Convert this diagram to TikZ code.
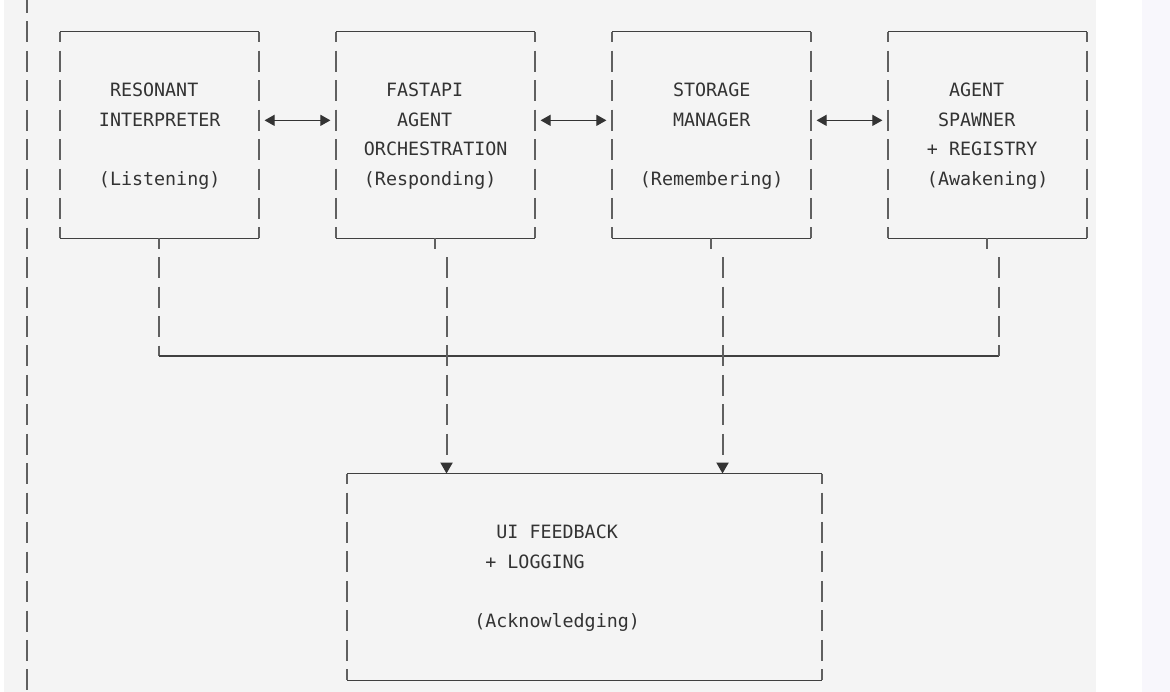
\documentclass[tikz,border=0pt]{standalone}
\usepackage{fontspec}
\newfontfamily\boxfont{DejaVu Sans Mono}
\usetikzlibrary{arrows.meta}
\definecolor{panel}{HTML}{F4F4F4}
\definecolor{sidebar}{HTML}{F8F7FC}
\definecolor{ink}{HTML}{333333}
\definecolor{rule}{HTML}{404040}
\definecolor{bar}{HTML}{606060}
\tikzset{
  hline/.style={draw=rule, line width=1.15pt},
  vline/.style={draw=bar, line width=2pt, dash pattern=on 21pt off 8.45pt, dash phase=10.5pt},
  link/.style={draw=ink, line width=1.1pt, {Triangle[length=10pt,width=11pt]}-{Triangle[length=10pt,width=11pt]},
    shorten <=5.52pt, shorten >=5.52pt},
  feed/.style={vline, dash phase=0pt, -{Triangle[length=11pt,width=12pt,color=ink]}},
  boxnode/.style={minimum width=198.72pt, minimum height=206.15pt, inner sep=0pt},
  txt/.style={font=\boxfont\fontsize{18.34pt}{22pt}\selectfont, text=ink, anchor=base west, inner sep=0pt, yshift=-6pt}
}
\begin{document}
\begin{tikzpicture}[x=1pt, y=-1pt]
  \useasboundingbox (0,0) rectangle (1170,692);
  \fill[white] (0,0) rectangle (1170,692);
  \fill[panel] (4,0) rectangle (1096,692);
  \fill[sidebar] (1142,0) rectangle (1170,692);
  \begin{scope}[shift={(27pt,-2.55pt)}, x=11.04pt, y=-29.45pt]
    \node[boxnode] (resonant) at (12,4.5) {};
    \node[boxnode] (fastapi) at (37,4.5) {};
    \node[boxnode] (storage) at (62,4.5) {};
    \node[boxnode] (spawner) at (87,4.5) {};
    \node[boxnode, minimum width=474.72pt] (ui) at (50.5,19.5) {};
    \foreach \b in {resonant,fastapi,storage,spawner,ui} {
      \draw[hline] (\b.north west) -- (\b.north east);
      \draw[hline] (\b.south west) -- (\b.south east);
      \draw[vline] (\b.north west) -- (\b.south west);
      \draw[vline] (\b.north east) -- (\b.south east);
    }
    \draw[vline, dash phase=0pt] (0,-0.3566) -- (0,23.3566);

    \draw[link] ([yshift=14.725pt]resonant.east) -- ([yshift=14.725pt]fastapi.west);
    \draw[link] ([yshift=14.725pt]fastapi.east) -- ([yshift=14.725pt]storage.west);
    \draw[link] ([yshift=14.725pt]storage.east) -- ([yshift=14.725pt]spawner.west);

    \coordinate (busL) at (12,12);
    \coordinate (busR) at (88,12);
    \coordinate (tapR) at (88,8.643);
    \coordinate (tapA) at (38,8.643);
    \coordinate (tapB) at (63,8.643);
    \draw[vline] (resonant.south) -- (busL);
    \draw[hline] (busL) -- (busR);
    \draw[vline, dash phase=0pt] (tapR) -- (busR);
    \foreach \b in {fastapi,storage,spawner}
      \draw[vline] (\b.south) -- ++(0,0.3566);
    \draw[feed] (tapA) -- (tapA |- ui.north);
    \draw[feed] (tapB) -- (tapB |- ui.north);

    \node[txt] (res1) at (7.5,3) {RESONANT};
    \node[txt] (res2) at (6.5,4) {INTERPRETER};
    \node[txt] (res3) at (6.5,6) {(Listening)};
    \node[txt] (api1) at (32.5,3) {FASTAPI};
    \node[txt] (api2) at (33.5,4) {AGENT};
    \node[txt] (api3) at (30.5,5) {ORCHESTRATION};
    \node[txt] (api4) at (30.5,6) {(Responding)};
    \node[txt] (sto1) at (58.5,3) {STORAGE};
    \node[txt] (sto2) at (58.5,4) {MANAGER};
    \node[txt] (sto3) at (55.5,6) {(Remembering)};
    \node[txt] (spw1) at (83.5,3) {AGENT};
    \node[txt] (spw2) at (82.5,4) {SPAWNER};
    \node[txt] (spw3) at (81.5,5) {+ REGISTRY};
    \node[txt] (spw4) at (81.5,6) {(Awakening)};
    \node[txt] (ui1) at (42.5,18) {UI FEEDBACK};
    \node[txt] (ui2) at (41.5,19) {+ LOGGING};
    \node[txt] (ui3) at (40.5,21) {(Acknowledging)};
  \end{scope}
\end{tikzpicture}
\end{document}
